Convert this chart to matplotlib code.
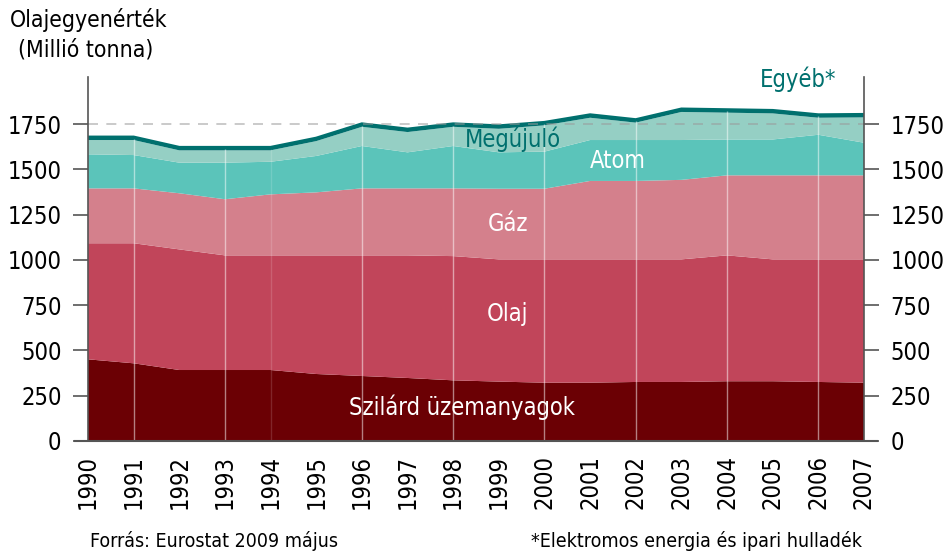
import numpy as np
import matplotlib.pyplot as plt
from matplotlib.lines import Line2D

plt.rcParams['font.family'] = ['DejaVu Sans']
plt.rcParams['font.stretch'] = 'condensed'

years = list(range(1990, 2008))
szilard = [451, 429, 392, 392, 392, 370, 359, 348, 335, 328, 322, 322, 326, 326, 330, 330, 326, 322]
olaj = [641, 663, 666, 633, 633, 655, 666, 677, 686, 675, 681, 681, 677, 677, 695, 673, 677, 681]
gaz = [303, 303, 310, 310, 337, 348, 370, 370, 374, 390, 390, 433, 433, 439, 442, 464, 464, 464]
atom = [188, 184, 169, 202, 180, 201, 234, 199, 234, 201, 205, 226, 226, 220, 198, 198, 224, 180]
megujulo = [79, 83, 68, 68, 63, 82, 106, 112, 106, 130, 145, 123, 96, 155, 148, 144, 94, 140]
egyeb = [15] * 18

colors = ['#6b0004', '#c1455a', '#d4808c', '#5bc4ba', '#95cfc4', '#00706e']
teal = '#00706e'

fig = plt.figure(figsize=(9.44, 5.51), dpi=100)
ax = fig.add_axes([88/944, 1 - 441/551, (864 - 88)/944, (441 - 77)/551])

ax.stackplot(years, szilard, olaj, gaz, atom, megujulo, egyeb, colors=colors, linewidth=0)
total = np.array(szilard) + olaj + gaz + atom + megujulo + egyeb
ax.plot(years, total, color=teal, lw=2.5, solid_joinstyle='miter')

# halvány fehér függőleges vonalak
for yr in [1991, 1993, 1996, 1998, 2000, 2002, 2004, 2006]:
    i = years.index(yr)
    ax.vlines(yr, 0, total[i] - 8, color='white', lw=1, alpha=0.5)
ax.vlines(1994, 0, total[4] - 8, color='white', lw=1, alpha=0.15)

ax.axhline(1750, color='#999999', lw=1.2, ls=(0, (6, 5)), alpha=0.6)

ax.set_xlim(1990, 2007)
ax.set_ylim(0, 2010)

yt = [0, 250, 500, 750, 1000, 1250, 1500, 1750]
ax.set_yticks(yt)
ax.set_yticklabels([str(v) for v in yt])
ax.tick_params(axis='y', left=True, right=True, labelleft=True, labelright=True,
               length=11, width=1.2, color='#555555', labelsize=17, pad=8)
ax.set_xticks(years)
ax.set_xticklabels([str(y) for y in years], rotation=90, fontsize=17)
ax.tick_params(axis='x', length=0, pad=10)

for s in ['top', 'bottom']:
    ax.spines[s].set_visible(False)
for s in ['left', 'right']:
    ax.spines[s].set_color('#555555')
    ax.spines[s].set_linewidth(1.2)
fig.add_artist(Line2D([75/944, 877/944], [1 - 441/551] * 2, color='#555555', lw=1.5))

# feliratok
ax.text(1998.2, 185, 'Szilárd üzemanyagok', color='white', fontsize=17, ha='center', va='center')
ax.text(1999.2, 700, 'Olaj', color='white', fontsize=17, ha='center', va='center')
ax.text(1999.2, 1200, 'Gáz', color='white', fontsize=17, ha='center', va='center')
ax.text(2001.6, 1545, 'Atom', color='white', fontsize=17, ha='center', va='center')
ax.text(1999.3, 1665, 'Megújuló', color=teal, fontsize=17, ha='center', va='center')
ax.text(2005.55, 2000, 'Egyéb*', color=teal, fontsize=17, ha='center', va='center', clip_on=False)

fig.text(10/944, 1 - 20/551, 'Olajegyenérték', fontsize=16.5, va='center', ha='left')
fig.text(18/944, 1 - 50/551, '(Millió tonna)', fontsize=16.5, va='center', ha='left')
fig.text(90/944, 1 - 541/551, 'Forrás: Eurostat 2009 május', fontsize=14, va='center', ha='left')
fig.text(862/944, 1 - 541/551, '*Elektromos energia és ipari hulladék', fontsize=14, va='center', ha='right')

fig.savefig('out.png', dpi=100)
